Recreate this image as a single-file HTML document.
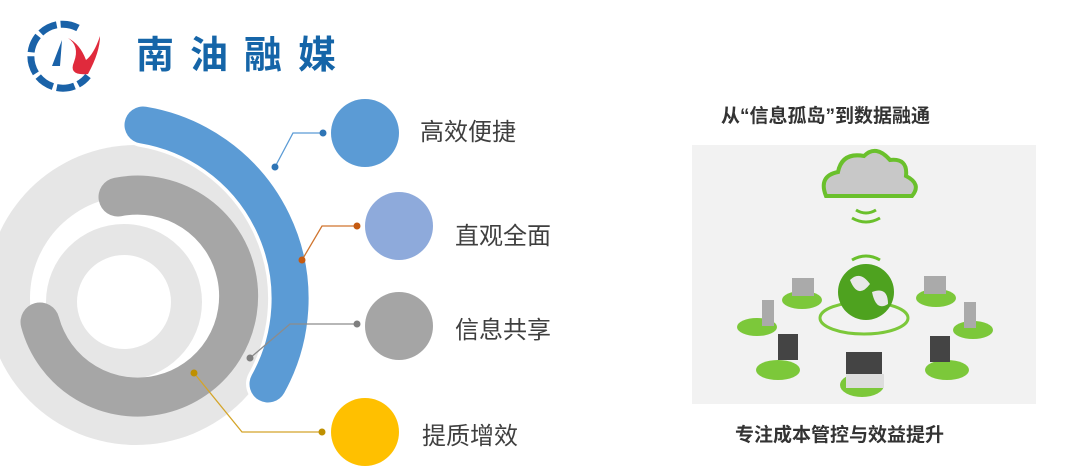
<!DOCTYPE html>
<html><head><meta charset="utf-8"><style>
body{margin:0;width:1080px;height:469px;background:#fff;overflow:hidden;position:relative;font-family:"Liberation Sans","Noto Sans CJK SC",sans-serif}
.t{position:absolute;color:#3f3f3f;font-size:24px;line-height:1;white-space:nowrap}
</style></head><body>
<svg width="1080" height="469" style="position:absolute;left:0;top:0">
<g>
<path d="M78 28 A32 32 0 1 0 88 76" fill="none" stroke="#1a62a8" stroke-width="7" stroke-dasharray="18 4"/>
<path d="M62 40 L52 66 L60 66 Z" fill="#1a62a8"/>
<path d="M68 38 Q80 46 74 62 Q68 76 88 74 Q100 52 100 36 Q94 54 86 60 Q80 44 68 38Z" fill="#e02a3c"/>
</g>
<circle cx="136" cy="295" r="150" fill="#e6e6e6"/>
<circle cx="132" cy="298" r="102" fill="#fff"/>
<circle cx="124" cy="302" r="78" fill="#e6e6e6"/>
<circle cx="124" cy="302" r="47" fill="#fff"/>
<path d="M118 197 A101 101 0 1 1 40 322" fill="none" stroke="#a6a6a6" stroke-width="39" stroke-linecap="round"/>
<path d="M143 125 A176 176 0 0 1 268 384" fill="none" stroke="#fff" stroke-width="44" stroke-linecap="round"/>
<path d="M143 125 A176 176 0 0 1 268 384" fill="none" stroke="#5b9bd5" stroke-width="37" stroke-linecap="round"/>
<g stroke-width="1.3" fill="none">
<polyline points="275,167 293,133 323,133" stroke="#5b9bd5"/>
<polyline points="302,260 322,226 357,226" stroke="#d0752f"/>
<polyline points="250,358 290,324 357,324" stroke="#8c8c8c"/>
<polyline points="194,373 242,432 322,432" stroke="#d4a52a"/>
</g>
<circle cx="275" cy="167" r="3.5" fill="#2e75b6"/><circle cx="323" cy="133" r="3.5" fill="#2e75b6"/>
<circle cx="302" cy="260" r="3.5" fill="#c55a11"/><circle cx="357" cy="226" r="3.5" fill="#c55a11"/>
<circle cx="250" cy="358" r="3.5" fill="#7f7f7f"/><circle cx="357" cy="324" r="3.5" fill="#7f7f7f"/>
<circle cx="194" cy="373" r="3.5" fill="#bf9000"/><circle cx="322" cy="432" r="3.5" fill="#bf9000"/>
<circle cx="365" cy="133" r="34" fill="#5b9bd5"/>
<circle cx="399" cy="226" r="34" fill="#8eaadb"/>
<circle cx="399" cy="326" r="34" fill="#a5a5a5"/>
<circle cx="365" cy="432" r="34" fill="#ffc000"/>
<rect x="692" y="145" width="344" height="259" fill="#f2f2f2"/>
<path d="M826 196 Q818 176 838 172 Q842 152 864 156 Q876 144 890 160 Q908 158 906 176 Q922 184 912 196 Z" fill="#c8c8c8" stroke="#6ac02c" stroke-width="4"/>
<g fill="none" stroke="#6ac02c" stroke-width="3">
<path d="M852 218 Q866 226 880 218"/><path d="M856 210 Q866 216 876 210"/>
<path d="M852 260 Q866 252 880 260"/>
</g>
<ellipse cx="864" cy="318" rx="44" ry="16" fill="none" stroke="#7cc83a" stroke-width="3"/>
<circle cx="866" cy="292" r="28" fill="#4ea21f"/>
<path d="M850 280 Q860 270 870 284 Q858 300 850 280Z M872 292 Q888 286 888 304 Q876 312 872 292Z" fill="#e8e8e8"/>
<g fill="#7cc83a">
<ellipse cx="802" cy="300" rx="20" ry="9"/><ellipse cx="936" cy="298" rx="20" ry="9"/>
<ellipse cx="757" cy="327" rx="20" ry="9"/><ellipse cx="973" cy="330" rx="20" ry="9"/>
<ellipse cx="778" cy="370" rx="22" ry="10"/><ellipse cx="947" cy="370" rx="22" ry="10"/>
<ellipse cx="862" cy="385" rx="22" ry="12"/>
</g>
<g fill="#aaa">
<rect x="792" y="278" width="22" height="18"/><rect x="924" y="276" width="22" height="18"/>
<rect x="762" y="300" width="12" height="26"/><rect x="964" y="302" width="12" height="26"/>
<rect x="778" y="334" width="20" height="26" fill="#444"/><rect x="930" y="336" width="20" height="26" fill="#444"/>
<rect x="846" y="352" width="36" height="22" fill="#444"/>
<rect x="846" y="374" width="38" height="14" fill="#ddd"/>
</g>
</svg>
<div style="position:absolute;left:136px;top:37px;font-size:38px;font-weight:bold;color:#1565a8;letter-spacing:16px;line-height:1">南油融媒</div>
<div class="t" style="left:420px;top:121px">高效便捷</div>
<div class="t" style="left:455px;top:225px">直观全面</div>
<div class="t" style="left:455px;top:319px">信息共享</div>
<div class="t" style="left:422px;top:425px">提质增效</div>
<div class="t" style="left:721px;top:107px;font-size:19px;font-weight:bold;color:#333">从“信息孤岛”到数据融通</div>
<div class="t" style="left:735px;top:426px;font-size:19px;font-weight:bold;color:#333">专注成本管控与效益提升</div>
</body></html>
